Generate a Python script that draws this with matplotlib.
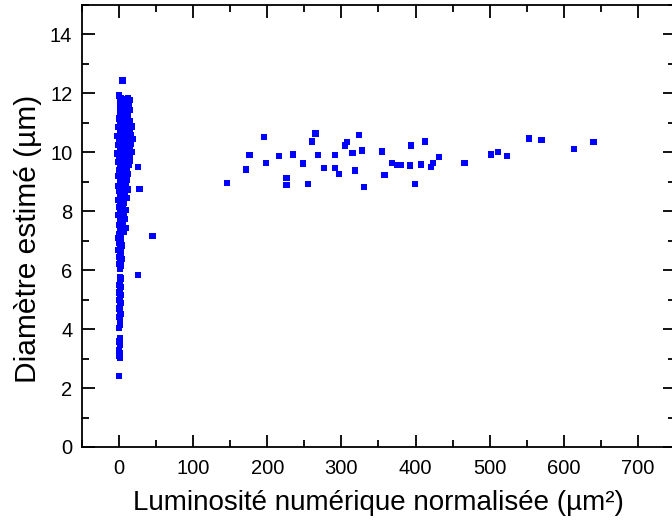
import matplotlib
matplotlib.use("Agg")
import matplotlib.pyplot as plt
from matplotlib.ticker import MultipleLocator

plt.rcParams['font.family'] = ['Liberation Sans', 'DejaVu Sans']

# dense cluster of small objects (luminosity, diameter)
lum_cluster = [4.5,
    0, 3, 7, 12, 15, 2, 9, 5, 13, 1, 8, 14, 4, 10, 2, 12, 7,
    0, 5, 11, 15, 2, 8, 13, 17, -1, 4, 10, 14, 1, 7, 12, 16, -2, 3, 9, 18,
    0, 6, 13, 16, -1, 4, 10, 14, 1, 7, 12, 17, -2, 3, 9, 15, 0, 6, 11, 14,
    -1, 4, 8, 13, 1, 6, 11,
    0, 4, 9, 12, -1, 3, 7, 11, 1, 5, 9, -1, 3, 7, 12, 0, 4, 8, 1, 5, 10,
    -1, 3, 7, 2,
    0, 5, 9, 2, 6, -1, 3, 8, 1, 5, 0, 4, 9, 2, 6, 0,
    2, -1, 3, 0, 4, 1, -1, 3, 1, 0, 4, 2, 0, 2, 1,
    1, 3, 1, 0, 2, 1, 0, 2, 1, 0, 2, 1, 0, 1, 2, 0, 1, 1, 0, 1, 0, 1, 0,
    1, 0, 1, 0]
diam_cluster = [12.44,
    11.93, 11.85, 11.82, 11.83, 11.78, 11.70, 11.68, 11.60, 11.60, 11.52,
    11.50, 11.45, 11.40, 11.38, 11.30, 11.28, 11.22,
    11.15, 11.12, 11.10, 11.05, 11.00, 10.98, 10.92, 10.88, 10.85, 10.82,
    10.80, 10.74, 10.70, 10.66, 10.62, 10.60, 10.55, 10.52, 10.50, 10.45,
    10.40, 10.38, 10.35, 10.30, 10.25, 10.22, 10.20, 10.15, 10.10, 10.08,
    10.04, 10.00, 9.96, 9.94, 9.90, 9.86, 9.82, 9.80, 9.76, 9.70,
    9.66, 9.62, 9.60, 9.56, 9.50, 9.48, 9.44,
    9.38, 9.34, 9.30, 9.26, 9.20, 9.16, 9.12, 9.06, 9.00, 8.96, 8.92, 8.86,
    8.82, 8.78, 8.74, 8.68, 8.64, 8.60, 8.52, 8.48, 8.44, 8.38, 8.34, 8.30,
    8.22,
    8.14, 8.10, 8.05, 7.98, 7.92, 7.86, 7.80, 7.74, 7.68, 7.62, 7.54, 7.48,
    7.42, 7.36, 7.30, 7.24,
    7.16, 7.08, 7.00, 6.92, 6.84, 6.76, 6.68, 6.60, 6.52, 6.44, 6.38, 6.30,
    6.22, 6.14, 6.06,
    5.78, 5.72, 5.62, 5.50, 5.42, 5.34, 5.24, 5.16, 5.08, 4.98, 4.90, 4.80,
    4.70, 4.60, 4.52, 4.42, 4.34, 4.15, 4.04, 3.68, 3.58, 3.48, 3.30,
    3.20, 3.10, 3.02, 2.42]

# isolated points near the cluster
lum_near = [26, 27.5, 45, 26]
diam_near = [9.50, 8.76, 7.17, 5.83]

# large objects
lum_large = [146, 171, 176, 195, 198, 216, 226, 226, 235, 248, 255, 260,
             265, 268, 276, 291, 291, 297, 305, 308, 315, 318, 324, 328,
             330, 355, 358, 368, 375, 380, 393, 394, 399, 407, 413, 421,
             423, 432, 466, 502, 511, 523, 553, 570, 614, 640]
diam_large = [8.95, 9.42, 9.91, 10.52, 9.64, 9.87, 9.13, 8.89, 9.93, 9.62,
              8.92, 10.37, 10.64, 9.91, 9.47, 9.91, 9.47, 9.27, 10.23, 10.34,
              9.98, 9.38, 10.60, 10.06, 8.82, 10.03, 9.23, 9.64, 9.56, 9.57,
              9.55, 10.23, 8.92, 9.59, 10.37, 9.51, 9.65, 9.84, 9.65, 9.93,
              10.02, 9.88, 10.47, 10.42, 10.10, 10.35]

fig = plt.figure(figsize=(6.72, 5.22), dpi=100)
ax = fig.add_axes([82/672, 1 - 447/522, (675 - 82)/672, (447 - 5)/522])

style = dict(marker='s', s=20, color='#0000ff', edgecolors='none', linewidths=0)
ax.scatter(lum_cluster, diam_cluster, **style)
ax.scatter(lum_near, diam_near, **style)
ax.scatter(lum_large, diam_large, **style)

ax.set_xlim(-50, 750)
ax.set_ylim(0, 15)
ax.xaxis.set_major_locator(MultipleLocator(100))
ax.xaxis.set_minor_locator(MultipleLocator(50))
ax.yaxis.set_major_locator(MultipleLocator(2))
ax.yaxis.set_minor_locator(MultipleLocator(1))
ax.set_xticks([0, 100, 200, 300, 400, 500, 600, 700])

ax.tick_params(which='both', direction='in', top=True, right=True, width=1.3,
               labelsize=14.5)
ax.tick_params(axis='x', pad=9)
ax.tick_params(axis='y', pad=7)
ax.tick_params(which='major', length=9)
ax.tick_params(which='minor', length=5)
for sp in ax.spines.values():
    sp.set_linewidth(1.3)

ax.set_xlabel("Luminosité numérique normalisée (µm²)", fontsize=20, labelpad=8)
ax.set_ylabel("Diamètre estimé (µm)", fontsize=21.5)
ax.yaxis.set_label_coords(-40/593, 0.47)

fig.savefig("out.png", dpi=100)
